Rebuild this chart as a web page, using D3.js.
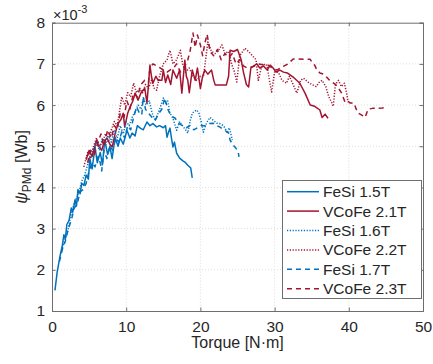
<!DOCTYPE html>
<html><head><meta charset="utf-8">
<script src="https://cdn.jsdelivr.net/npm/d3@7"></script>
<style>
html,body{margin:0;padding:0;background:#fff;}
svg{display:block;font-family:"Liberation Sans",Arial,Helvetica,sans-serif;}
</style></head>
<body><svg id="c" width="433" height="364"></svg>
<script>
// ---- data (torque [N·m], flux linkage ×10^-3 [Wb]) ----
const seriesNames = ["FeSi 1.5T","VCoFe 2.1T","FeSi 1.6T","VCoFe 2.2T","FeSi 1.7T","VCoFe 2.3T"];
const xTicks = [0,10,20,30,40,50];
const yTicks = [1,2,3,4,5,6,7,8];

const fesi15 = [[0.4,1.5],[0.7,1.95],[1.1,2.35],[1.4,2.6],[1.6,2.85],[1.8,2.75],[2.0,3.1],[2.3,3.2],[2.6,3.5],[2.8,3.4],[3.1,3.7],[3.3,3.55],[3.5,3.95],[3.8,3.85],[4.0,4.1],[4.3,4.05],[4.6,4.3],[4.9,4.2],[5.1,4.7],[5.4,4.45],[5.8,4.98],[6.1,4.6],[6.5,4.85],[6.8,4.55],[7.1,5.15],[7.5,4.8],[7.8,5.0],[8.1,4.7],[8.5,5.22],[8.9,5.0],[9.2,5.2],[9.6,5.05],[10.1,5.39],[10.5,5.2],[10.8,5.32],[11.2,5.25],[11.5,5.5],[11.9,5.44],[12.3,5.4],[12.8,5.59],[13.2,5.5],[13.6,5.55],[14.1,5.47],[14.5,5.5],[15.0,5.45],[15.3,5.5],[15.5,5.22],[15.7,5.34],[15.9,5.44],[16.1,5.2],[16.3,4.98],[16.5,5.1],[16.8,4.83],[17.2,4.71],[17.6,4.65],[18.0,4.6],[18.3,4.54],[18.7,4.47],[18.9,4.23]];

const vcofe21 = [[4.6,4.67],[5.0,4.9],[5.4,4.75],[6.0,5.15],[6.3,5.0],[6.7,4.9],[7.0,5.1],[7.4,5.2],[7.8,5.05],[8.1,4.98],[8.5,5.3],[8.9,5.56],[9.3,5.65],[9.6,5.8],[9.8,5.47],[10.2,5.8],[10.5,5.95],[10.9,6.1],[11.2,6.29],[11.6,6.12],[12.0,6.3],[12.5,6.41],[12.8,6.05],[13.0,6.5],[13.2,6.97],[13.4,6.7],[13.6,6.53],[14.0,6.7],[14.3,6.6],[14.8,6.6],[15.0,6.85],[15.3,6.55],[15.6,6.73],[16.0,6.5],[16.3,6.85],[16.8,6.65],[17.2,6.85],[17.5,6.29],[17.9,7.09],[18.1,6.7],[18.3,6.6],[18.5,6.3],[18.9,6.85],[19.3,6.6],[19.6,6.9],[20.0,6.4],[20.3,6.7],[20.6,6.85],[21.0,6.75],[21.5,6.85],[21.8,6.6],[22.0,6.49],[22.8,6.49],[23.5,6.49],[23.8,6.7],[24.0,7.33],[24.5,7.3],[25.0,7.35],[25.3,7.2],[25.5,7.1],[25.8,6.8],[26.2,6.5],[26.5,6.44],[26.8,6.9],[27.2,6.95],[27.6,7.0],[28.0,6.9],[28.5,6.95],[29.0,6.85],[29.4,6.97],[29.8,6.9],[30.2,6.8],[30.7,6.85],[31.2,6.8],[31.7,6.78],[32.5,6.68],[33.4,6.53],[34.1,6.29],[34.8,6.0],[35.4,5.97],[36.1,5.88],[36.4,5.7],[36.8,5.78],[37.2,5.68]];

const fesi16 = [[1.2,2.4],[1.5,2.6],[1.9,2.8],[2.2,3.0],[2.5,3.3],[2.8,3.5],[3.2,3.7],[3.6,3.85],[4.0,4.15],[4.4,4.3],[4.8,4.55],[5.2,4.8],[5.6,4.95],[6.0,5.1],[6.4,4.9],[6.8,5.2],[7.2,5.0],[7.6,5.3],[8.0,5.1],[8.4,5.4],[8.8,5.2],[9.2,5.5],[9.6,5.3],[10.0,5.6],[10.4,5.5],[10.8,5.7],[11.2,5.85],[11.6,6.0],[12.0,5.9],[12.3,6.17],[12.7,6.0],[13.1,6.1],[13.5,5.8],[13.9,5.63],[14.3,5.8],[14.6,5.95],[15.0,6.17],[15.3,6.05],[15.6,6.1],[15.9,5.8],[16.3,5.68],[16.8,5.39],[17.2,5.6],[17.7,5.47],[18.0,5.4],[18.3,5.32],[18.6,5.6],[18.9,5.8],[19.2,5.85],[19.5,5.88],[19.8,5.8],[20.1,5.6],[20.4,5.34],[20.7,5.5],[20.9,5.59],[21.3,5.7],[21.8,5.62],[22.2,5.56],[22.6,5.55],[23.0,5.51],[23.3,5.45],[23.6,5.32],[23.9,5.45],[24.1,5.3],[24.3,5.15]];

const vcofe22 = [[4.3,4.5],[4.8,4.85],[5.2,4.7],[5.6,5.0],[6.0,5.2],[6.4,5.0],[6.8,5.1],[7.2,5.3],[7.6,5.1],[8.0,5.4],[8.4,5.6],[8.8,5.5],[9.4,6.2],[9.8,6.0],[10.2,6.3],[10.6,6.2],[11.0,6.53],[11.4,6.3],[11.8,6.4],[12.2,6.3],[12.6,6.5],[13.0,6.4],[13.4,6.6],[13.8,6.4],[14.1,6.36],[14.5,6.7],[15.0,7.0],[15.5,7.1],[15.9,7.33],[16.3,7.0],[16.8,7.1],[17.3,7.33],[17.6,7.0],[18.0,6.8],[18.5,6.9],[19.0,6.7],[19.5,6.6],[20.0,6.7],[20.4,6.68],[20.7,7.1],[21.0,7.53],[21.5,7.3],[22.0,7.25],[22.5,7.35],[22.9,7.46],[23.3,7.25],[23.8,7.3],[24.2,7.0],[24.6,6.8],[24.9,6.56],[25.3,7.2],[25.7,7.3],[26.0,7.38],[26.5,7.3],[27.0,7.2],[27.5,7.1],[27.8,6.6],[28.2,6.9],[28.7,7.0],[29.0,6.95],[29.3,6.6],[29.6,6.32],[30.0,6.8],[30.5,6.8],[31.0,6.6],[31.6,6.53],[32.0,6.7],[32.5,6.5],[33.0,6.29],[33.5,6.6],[33.9,6.65],[34.5,6.56],[35.0,6.5],[35.6,6.45],[36.0,6.55],[36.4,6.6],[36.9,6.45],[37.3,6.2],[37.6,6.1],[37.9,5.97],[38.2,6.5],[38.6,6.6],[39.0,6.45],[39.4,6.53],[39.7,6.3],[39.9,6.07]];

const fesi17 = [[1.0,2.2],[1.4,2.5],[1.8,2.7],[2.2,3.0],[2.6,3.2],[3.0,3.5],[3.4,3.6],[3.8,3.9],[4.2,3.95],[4.6,4.1],[5.0,4.4],[5.4,4.6],[5.8,4.5],[6.2,4.75],[6.5,4.6],[6.7,4.4],[7.0,4.9],[7.4,4.7],[7.8,5.0],[8.2,4.9],[8.6,5.2],[9.0,5.1],[9.4,5.35],[9.8,5.2],[10.2,5.5],[10.6,5.4],[11.0,5.7],[11.4,5.95],[11.8,5.8],[12.1,5.76],[12.3,6.2],[12.6,5.9],[13.0,5.8],[13.5,5.7],[13.9,5.63],[14.4,5.8],[14.8,5.9],[15.2,6.17],[15.6,5.9],[16.0,5.75],[16.6,5.68],[17.1,5.55],[17.6,5.5],[18.1,5.45],[18.6,5.5],[19.1,5.4],[19.6,5.45],[20.1,5.5],[20.6,5.5],[21.2,5.55],[21.7,5.56],[22.2,5.5],[22.6,5.47],[23.2,5.4],[23.8,5.32],[24.0,5.15],[24.4,5.03],[24.8,4.95],[25.1,4.86],[25.2,4.74]];

const vcofe23 = [[4.8,4.6],[5.2,4.9],[5.7,4.8],[6.2,5.1],[6.6,5.3],[7.0,5.0],[7.5,5.4],[8.0,5.2],[8.4,5.5],[8.8,5.4],[9.2,5.8],[9.7,5.7],[10.1,6.1],[10.5,5.9],[11.0,6.3],[11.5,6.2],[12.0,6.5],[12.5,6.6],[13.0,6.55],[13.2,6.9],[13.6,7.0],[14.1,6.95],[14.6,6.9],[15.0,6.85],[15.5,6.8],[15.9,6.85],[16.4,6.9],[16.8,7.0],[17.3,6.8],[17.8,6.9],[18.3,7.1],[18.6,7.3],[19.0,7.75],[19.3,7.4],[19.6,7.7],[20.0,7.46],[20.3,7.2],[20.6,7.5],[20.9,7.72],[21.3,7.3],[21.8,7.2],[22.3,7.35],[22.8,7.1],[23.3,7.25],[23.8,7.15],[24.3,7.25],[24.8,7.0],[25.3,7.1],[25.8,6.95],[26.3,6.9],[26.8,6.92],[27.3,6.95],[27.8,7.0],[28.5,6.98],[29.1,6.97],[29.7,6.9],[30.3,6.85],[30.8,6.9],[31.3,6.95],[31.8,7.0],[32.5,7.12],[33.2,7.12],[34.0,7.11],[34.8,7.11],[35.2,7.0],[35.4,6.97],[35.7,6.85],[36.1,6.78],[36.6,6.75],[37.0,6.68],[37.4,6.6],[37.8,6.55],[38.2,6.5],[38.5,6.44],[39.0,6.3],[39.5,6.07],[39.8,6.1],[40.2,6.05],[40.7,6.05],[41.0,5.9],[41.3,5.8],[41.8,5.75],[42.2,5.7],[42.6,5.9],[43.2,5.92],[43.8,5.92],[44.5,5.93],[45.1,5.95]];

const seriesData = [fesi15, vcofe21, fesi16, vcofe22, fesi17, vcofe23];
const seriesColors = ["#0072BD","#A2142F","#0072BD","#A2142F","#0072BD","#A2142F"];
const seriesDash = [null, null, "1.2,1.6", "1.2,1.6", "5,4", "5,4"];

// ---- layout ----
const FS = "15.5px";
const svg = d3.select("#c");
const L = 52, R = 423, T = 22.7, B = 311;
const x = d3.scaleLinear().domain([0,50]).range([L,R]);
const y = d3.scaleLinear().domain([1,8]).range([B,T]);

// grid
const g = svg.append("g");
g.selectAll(".gx").data(xTicks.slice(1,-1)).enter().append("line")
  .attr("x1",d=>x(d)).attr("x2",d=>x(d)).attr("y1",T).attr("y2",B)
  .attr("stroke","#d4d4d4").attr("stroke-width",0.8).attr("stroke-dasharray","1,2");
g.selectAll(".gy").data(yTicks.slice(1,-1)).enter().append("line")
  .attr("y1",d=>y(d)).attr("y2",d=>y(d)).attr("x1",L).attr("x2",R)
  .attr("stroke","#d4d4d4").attr("stroke-width",0.8).attr("stroke-dasharray","1,2");

// lines
svg.append("clipPath").attr("id","pc").append("rect")
  .attr("x",L).attr("y",T).attr("width",R-L).attr("height",B-T);
const line = d3.line().x(d=>x(d[0])).y(d=>y(d[1]));
const lg = svg.append("g").attr("clip-path","url(#pc)");
seriesData.forEach((s,i)=>{
  lg.append("path").attr("d",line(s)).attr("fill","none")
    .attr("stroke",seriesColors[i]).attr("stroke-width",1.5)
    .attr("stroke-linejoin","round")
    .attr("stroke-dasharray",seriesDash[i]);
});

// axes
const axCol = "#6e6e6e";
const tk = 3.5;
const xa = svg.append("g").attr("transform",`translate(0,${B})`)
  .call(d3.axisBottom(x).tickValues(xTicks).tickSize(-tk).tickPadding(10).tickFormat(d3.format("d")));
const xt = svg.append("g").attr("transform",`translate(0,${T})`)
  .call(d3.axisTop(x).tickValues(xTicks).tickSize(-tk).tickFormat(""));
const ya = svg.append("g").attr("transform",`translate(${L},0)`)
  .call(d3.axisLeft(y).tickValues(yTicks).tickSize(-tk).tickPadding(7).tickFormat(d3.format("d")));
const yr = svg.append("g").attr("transform",`translate(${R},0)`)
  .call(d3.axisRight(y).tickValues(yTicks).tickSize(-tk).tickFormat(""));
[xa,xt,ya,yr].forEach(a=>{
  a.selectAll("path").attr("stroke",axCol).attr("stroke-width",1);
  a.selectAll("line").attr("stroke",axCol);
  a.selectAll("text").attr("fill","#262626").style("font-size",FS)
   .style("font-family",'"Liberation Sans",Arial,sans-serif');
});

// exponent label
const ex = svg.append("text").attr("x",53).attr("y",20).attr("fill","#262626")
  .style("font-size","14.5px");
ex.append("tspan").text("×10");
ex.append("tspan").attr("dy",-7).style("font-size","11px").text("-3");

// x label
svg.append("text").attr("x",(L+R)/2).attr("y",348).attr("text-anchor","middle")
  .attr("fill","#262626").style("font-size","16px").text("Torque [N·m]");

// y label
const yl = svg.append("text").attr("transform","translate(27,167) rotate(-90)")
  .attr("text-anchor","middle").attr("fill","#262626").style("font-size","16px");
yl.append("tspan").style("font-style","italic").text("ψ");
yl.append("tspan").attr("dy",4).style("font-size","12px").text("PMd");
yl.append("tspan").attr("dy",-4).text(" [Wb]");

// legend
const lgx = 282.5, lgy = 180.5, lgw = 139, lgh = 118;
const leg = svg.append("g");
leg.append("rect").attr("x",lgx).attr("y",lgy).attr("width",lgw).attr("height",lgh)
  .attr("fill","#fff").attr("stroke","#6e6e6e").attr("stroke-width",1);
seriesNames.forEach((n,i)=>{
  const cy = 191.7 + i*19.4;
  leg.append("line").attr("x1",287).attr("x2",319).attr("y1",cy).attr("y2",cy)
    .attr("stroke",seriesColors[i]).attr("stroke-width",1.5)
    .attr("stroke-dasharray",seriesDash[i]);
  leg.append("text").attr("x",323).attr("y",cy+5.5).attr("fill","#262626")
    .style("font-size",FS).text(n);
});
</script></body></html>
